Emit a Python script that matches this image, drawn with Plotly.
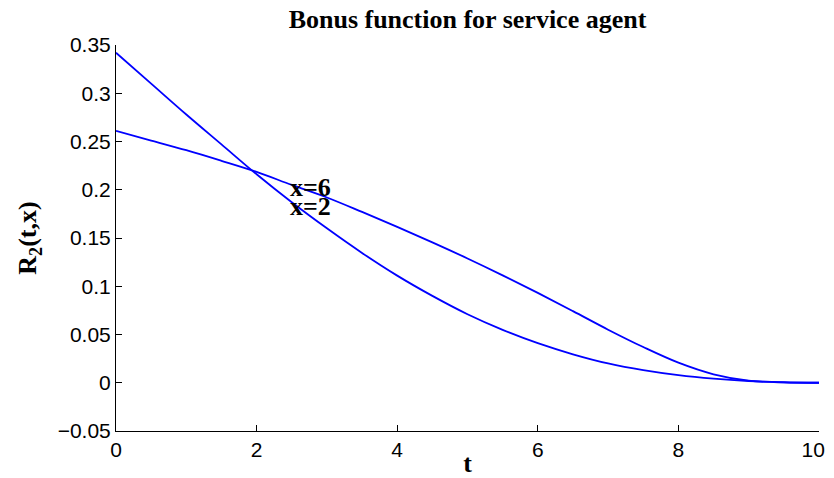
import plotly.graph_objects as go

# Data
t_vals = [0, 0.5, 1, 1.5, 2, 2.5, 3, 3.5, 4, 4.5, 5, 5.5, 6, 6.5, 7, 7.5, 8, 8.5, 9, 9.5, 10]
r_x2 = [0.342, 0.310, 0.278, 0.247, 0.216, 0.187, 0.160, 0.1345, 0.111, 0.090, 0.071,
        0.0548, 0.041, 0.0295, 0.0200, 0.0130, 0.0078, 0.0042, 0.0018, 0.0005, 0.0]
r_x6 = [0.261, 0.251, 0.241, 0.230, 0.2185, 0.205, 0.192, 0.177, 0.1615, 0.1455, 0.1288,
        0.1113, 0.0931, 0.0742, 0.0550, 0.0370, 0.0208, 0.0088, 0.0022, 0.0003, 0.0]

x_ticks = [0, 2, 4, 6, 8, 10]
x_tick_labels = ["0", "2", "4", "6", "8", "10&nbsp;&nbsp;"]
y_ticks = [-0.05, 0, 0.05, 0.1, 0.15, 0.2, 0.25, 0.3, 0.35]

labels = ["x=6", "x=2"]
label_t = [2.45, 2.45]
label_r = [0.202, 0.183]

title_text = "Bonus function for service agent"
x_title = "t"
y_title = "R<sub>2</sub>(t,x)"

serif = "Liberation Serif, Times New Roman, serif"
sans = "Liberation Sans, Arial, Helvetica, sans-serif"
blue = "rgb(0,0,255)"

fig = go.Figure()
fig.add_trace(go.Scatter(x=t_vals, y=r_x2, mode="lines", name="x=2",
                         line=dict(color=blue, width=1.8, shape="spline", smoothing=1.0)))
fig.add_trace(go.Scatter(x=t_vals, y=r_x6, mode="lines", name="x=6",
                         line=dict(color=blue, width=1.8, shape="spline", smoothing=1.0)))

for txt, tx, ty in zip(labels, label_t, label_r):
    fig.add_annotation(x=tx, y=ty, text="<b>" + txt + "</b>", showarrow=False,
                       xanchor="left", yanchor="middle",
                       font=dict(family=serif, size=26, color="black"))

# The page body adds an 8px margin; the figure is sized to the visible area
fig.update_layout(
    width=818, height=470,
    margin=dict(l=108, r=7, t=37, b=47, autoexpand=False),
    paper_bgcolor="white", plot_bgcolor="white",
    showlegend=False,
    title=dict(text="<b>" + title_text + "</b>", x=0.5, xref="paper", xanchor="center",
               y=1 - 11 / 470, yref="container", yanchor="middle",
               font=dict(family=serif, size=26, color="black")),
)
fig.update_xaxes(range=[0, 10], tickvals=x_ticks, ticktext=x_tick_labels,
                 automargin=False, ticklabeloverflow="allow",
                 ticks="inside", ticklen=6, tickcolor="black", tickwidth=1,
                 showline=True, linecolor="black", linewidth=1, mirror=False,
                 showgrid=False, zeroline=False,
                 tickfont=dict(family=sans, size=21, color="black"),
                 title=dict(text="<b>" + x_title + "</b>", standoff=0,
                            font=dict(family=serif, size=26, color="black")))
fig.update_yaxes(range=[-0.05, 0.35], tickvals=y_ticks,
                 automargin=False,
                 ticks="inside", ticklen=6, tickcolor="black", tickwidth=1,
                 showline=True, linecolor="black", linewidth=1, mirror=False,
                 showgrid=False, zeroline=False,
                 tickfont=dict(family=sans, size=21, color="black"),
                 title=dict(text="<b>" + y_title + "</b>", standoff=13,
                            font=dict(family=serif, size=26, color="black")))

fig.write_html("out.html")
